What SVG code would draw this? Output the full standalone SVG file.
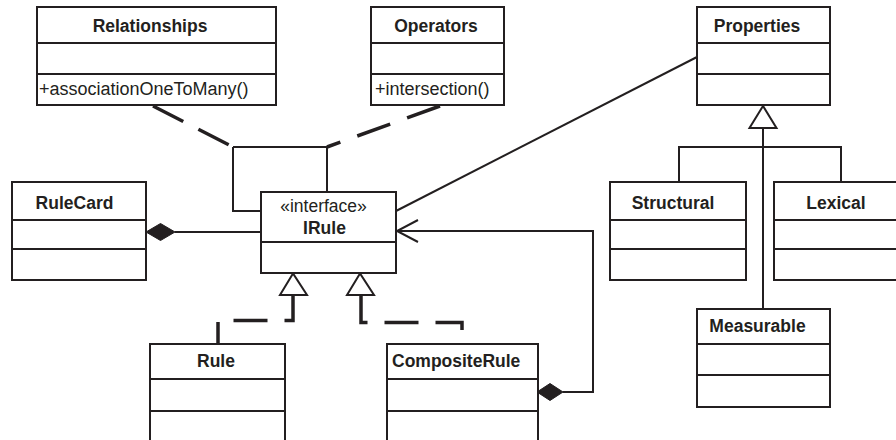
<svg xmlns="http://www.w3.org/2000/svg" width="896" height="440" viewBox="0 0 896 440">
<style>
.box{fill:#fff;stroke:#231f20;stroke-width:2}
.div{stroke:#231f20;stroke-width:2}
.t{font-family:"Liberation Sans",Arial,Helvetica,sans-serif;font-size:17.5px;fill:#231f20}
.m{font-size:18px}
.b{font-weight:bold;text-anchor:middle}
.ln{fill:none;stroke:#231f20;stroke-width:2}
.dash{fill:none;stroke:#231f20;stroke-width:3.5;stroke-dasharray:34 17;stroke-linejoin:miter}
.tri{fill:#fff;stroke:#231f20;stroke-width:2}
.dia{fill:#231f20;stroke:#231f20;stroke-width:1}
</style>
<rect width="896" height="440" fill="#fff"/>
<g id="connectors">
<path class="dash" d="M153,106 L233,147"/>
<path class="dash" d="M440,106 L327,147" style="stroke-dasharray:35 18"/>
<path class="ln" d="M233,147 L327,147 L327,192"/>
<path class="ln" d="M233,147 L233,211 L261,211"/>
<path class="ln" d="M175,232 L261,232"/>
<polygon class="dia" points="146,232 160.5,223.5 175,232 160.5,240.5"/>
<path class="ln" d="M697,57 L396,211"/>
<path class="ln" d="M563,392 L593,392 L593,231 L396,231"/>
<path class="ln" d="M418,220 L397,231 L418,242"/>
<polygon class="dia" points="537,392 550,383.5 563,392 550,400.5"/>
<path class="dash" d="M293,295 L293,320.5 L218,320.5 L218,344"/>
<path class="dash" d="M361,295 L361,322.5 L462,322.5 L462,333"/>
<polygon class="tri" points="293,273.5 280,295 307,295"/>
<polygon class="tri" points="360,273.5 347,295 374,295"/>
<path class="ln" d="M763,128 L763,309"/>
<path class="ln" d="M679,182 L679,147 L841,147 L841,182"/>
<polygon class="tri" points="763,106 749.5,128 776.5,128"/>
</g>
<g id="Relationships">
<rect class="box" x="37" y="7" width="239" height="98"/>
<line class="div" x1="37" y1="43" x2="276" y2="43"/>
<line class="div" x1="37" y1="74" x2="276" y2="74"/>
<text class="t b" x="150" y="32">Relationships</text>
<text class="t m" x="39" y="95">+associationOneToMany()</text>
</g>
<g id="Operators">
<rect class="box" x="371" y="7" width="133" height="98"/>
<line class="div" x1="371" y1="43" x2="504" y2="43"/>
<line class="div" x1="371" y1="74" x2="504" y2="74"/>
<text class="t b" x="436" y="32">Operators</text>
<text class="t m" x="375" y="95">+intersection()</text>
</g>
<g id="Properties">
<rect class="box" x="697" y="7" width="133" height="98"/>
<line class="div" x1="697" y1="43" x2="830" y2="43"/>
<line class="div" x1="697" y1="74" x2="830" y2="74"/>
<text class="t b" x="757" y="32">Properties</text>
</g>
<g id="RuleCard">
<rect class="box" x="12" y="182" width="134" height="98"/>
<line class="div" x1="12" y1="220" x2="146" y2="220"/>
<line class="div" x1="12" y1="249" x2="146" y2="249"/>
<text class="t b" x="74.5" y="209">RuleCard</text>
</g>
<g id="IRule">
<rect class="box" x="261" y="192" width="135" height="81"/>
<line class="div" x1="261" y1="242" x2="396" y2="242"/>
<text class="t" x="323.5" y="212" text-anchor="middle">«interface»</text>
<text class="t b" x="324.5" y="234">IRule</text>
</g>
<g id="Structural">
<rect class="box" x="610" y="182" width="136" height="98"/>
<line class="div" x1="610" y1="220" x2="746" y2="220"/>
<line class="div" x1="610" y1="249" x2="746" y2="249"/>
<text class="t b" x="673" y="209">Structural</text>
</g>
<g id="Lexical">
<rect class="box" x="774" y="182" width="136" height="98"/>
<line class="div" x1="774" y1="220" x2="910" y2="220"/>
<line class="div" x1="774" y1="249" x2="910" y2="249"/>
<text class="t b" x="836" y="209">Lexical</text>
</g>
<g id="Measurable">
<rect class="box" x="697" y="309" width="133" height="98"/>
<line class="div" x1="697" y1="344" x2="830" y2="344"/>
<line class="div" x1="697" y1="375" x2="830" y2="375"/>
<text class="t b" x="757.5" y="331.5">Measurable</text>
</g>
<g id="Rule">
<rect class="box" x="150" y="344" width="135" height="110"/>
<line class="div" x1="150" y1="379" x2="285" y2="379"/>
<line class="div" x1="150" y1="411" x2="285" y2="411"/>
<text class="t b" x="216" y="367">Rule</text>
</g>
<g id="CompositeRule">
<rect class="box" x="387" y="344" width="151" height="110"/>
<line class="div" x1="387" y1="379" x2="538" y2="379"/>
<line class="div" x1="387" y1="411" x2="538" y2="411"/>
<text class="t" x="392" y="367" font-weight="bold">CompositeRule</text>
</g>
</svg>
